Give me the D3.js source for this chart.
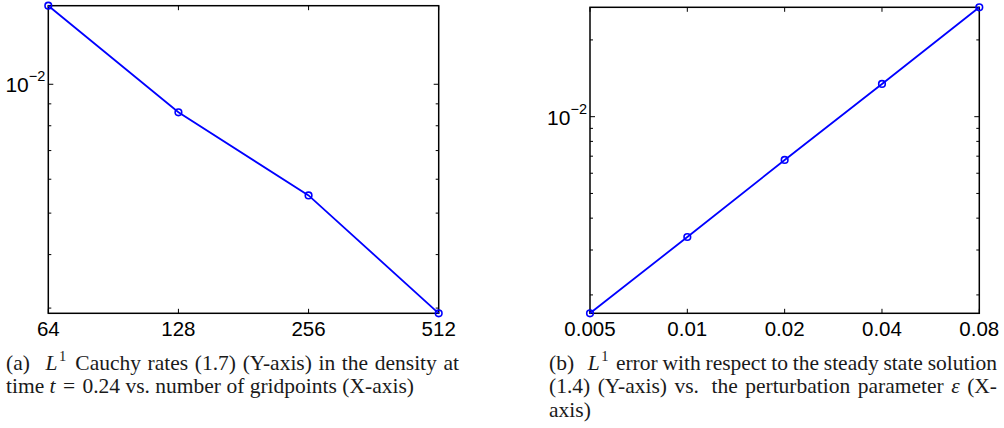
<!DOCTYPE html>
<html><head><meta charset="utf-8">
<script src="https://cdn.jsdelivr.net/npm/d3@7"></script>
<style>body{margin:0;background:#fff} svg{display:block}</style>
</head><body>
<svg id="fig" width="1004" height="428"></svg>
<script>
// Panel (a): L1 Cauchy rates in the density vs. number of gridpoints
const gridpoints = [64, 128, 256, 512];
const cauchyRates = [0.01526, 0.0086, 0.0055, 0.002917];
const gridTickLabels = ["64", "128", "256", "512"];

// Panel (b): L1 error w.r.t. steady state vs. perturbation parameter
const epsilons = [0.005, 0.01, 0.02, 0.04, 0.08];
const steadyErrors = [0.001694, 0.003374, 0.006764, 0.01344, 0.02685];
const epsTickLabels = ["0.005", "0.01", "0.02", "0.04", "0.08"];

// Labelled decade on the y axes
const yMajorTicks = [0.01];
const yMajorLabels = [{base: "10", exp: "\u22122"}];

const svg = d3.select("#fig");
const BLUE = "#0000ff";

function panel(box, xs, ys, xLabels, xBase) {
  const [x0, y0, x1, y1] = box;
  const g = svg.append("g");
  const x = d3.scaleLog().base(xBase).domain(d3.extent(xs)).range([x0, x1]);
  const y = d3.scaleLog().domain(d3.extent(ys)).range([y1, y0]);

  const tickStyle = s => s.attr("stroke", "#000").attr("stroke-width", 1);

  // x ticks (bottom and top, pointing inward)
  xs.forEach(v => {
    const px = x(v);
    tickStyle(g.append("line").attr("x1", px).attr("x2", px).attr("y1", y1).attr("y2", y1 - 4.5));
    tickStyle(g.append("line").attr("x1", px).attr("x2", px).attr("y1", y0).attr("y2", y0 + 4.5));
  });
  // y ticks: decades long, intermediate ones short
  y.ticks().forEach(v => {
    const py = y(v);
    const major = yMajorTicks.some(m => Math.abs(m - v) < 1e-12);
    const len = major ? 5 : 3;
    tickStyle(g.append("line").attr("x1", x0).attr("x2", x0 + len).attr("y1", py).attr("y2", py));
    tickStyle(g.append("line").attr("x1", x1).attr("x2", x1 - len).attr("y1", py).attr("y2", py));
  });

  // axes box
  g.append("rect").attr("x", x0).attr("y", y0).attr("width", x1 - x0).attr("height", y1 - y0)
    .attr("fill", "none").attr("stroke", "#000").attr("stroke-width", 1.5);

  // x tick labels
  g.selectAll(".xl").data(xs).join("text")
    .attr("x", d => x(d)).attr("y", y1 + 22.7)
    .attr("text-anchor", "middle")
    .attr("font-family", "Liberation Sans, Arial, sans-serif")
    .attr("font-size", 20.5)
    .text((d, i) => xLabels[i]);

  // y tick labels (10^-2)
  yMajorTicks.forEach((v, i) => {
    const t = g.append("text").attr("x", x0 - 3).attr("y", y(v) + 8)
      .attr("text-anchor", "end")
      .attr("font-family", "Liberation Sans, Arial, sans-serif");
    t.append("tspan").attr("font-size", 21).text(yMajorLabels[i].base);
    t.append("tspan").attr("font-size", 14.5).attr("dy", -11).text(yMajorLabels[i].exp);
  });

  // data line and markers
  const pts = xs.map((v, i) => [x(v), y(ys[i])]);
  g.append("path").attr("d", d3.line()(pts))
    .attr("fill", "none").attr("stroke", BLUE).attr("stroke-width", 1.8);
  g.selectAll("circle").data(pts).join("circle")
    .attr("cx", d => d[0]).attr("cy", d => d[1]).attr("r", 3.3)
    .attr("fill", "none").attr("stroke", BLUE).attr("stroke-width", 1.6);
}

panel([48.3, 5.7, 438.7, 313.3], gridpoints, cauchyRates, gridTickLabels, 2);
panel([590, 7.3, 979.3, 313.3], epsilons, steadyErrors, epsTickLabels, 10);

// ---- captions (justified serif text) ----
const CAP_FONT = "Liberation Serif, Times New Roman, serif";
const CAP_SIZE = 21.5;

// word: string, or array of parts {t, it, sup}; "extra" adds fixed space after a word
function W(parts, extra) { return {parts: typeof parts === "string" ? [{t: parts}] : parts, extra: extra || 0}; }

function captionLine(words, xLeft, xRight, baseline, justify, gapNatural) {
  const g = svg.append("g").attr("font-family", CAP_FONT).attr("font-size", CAP_SIZE).attr("fill", "#1a1a1a");
  const nodes = words.map(w => {
    const t = g.append("text").attr("y", baseline);
    w.parts.forEach(p => {
      const ts = t.append("tspan").text(p.t);
      if (p.it) ts.attr("font-style", "italic");
      if (p.sup) ts.attr("font-size", 14.5).attr("dy", -8.5).attr("dx", 1.5);
    });
    return t;
  });
  const widths = nodes.map(n => n.node().getComputedTextLength());
  const extras = words.reduce((s, w, i) => s + (i < words.length - 1 ? w.extra : 0), 0);
  const total = d3.sum(widths) + extras;
  const gap = justify && words.length > 1 ? (xRight - xLeft - total) / (words.length - 1) : (gapNatural || CAP_SIZE * 0.25);
  let cx = xLeft;
  nodes.forEach((n, i) => {
    n.attr("x", cx);
    cx += widths[i] + gap + words[i].extra;
  });
}

const L1 = [{t: "L", it: true}, {t: "1", sup: true}];

captionLine([W("(a)", 9), W(L1, 4), W("Cauchy"), W("rates"), W("(1.7)"), W("(Y-axis)"),
  W("in"), W("the"), W("density"), W("at")], 6, 459, 369.5, true);
captionLine([W("time"), W([{t: "t", it: true}], 2), W("=", 2), W("0.24"), W("vs."), W("number"),
  W("of"), W("gridpoints"), W("(X-axis)")], 6, 415, 393, false);

captionLine([W("(b)", 9), W(L1, 4), W("error"), W("with"), W("respect"), W("to"), W("the"),
  W("steady"), W("state"), W("solution")], 549, 997, 369.5, true);
captionLine([W("(1.4)"), W("(Y-axis)"), W("vs.", 5), W("the"), W("perturbation"),
  W("parameter"), W([{t: "\u03b5", it: true}]), W("(X-")], 549, 997, 393, true);
captionLine([W("axis)")], 549, 997, 416.5, false);
</script>
</body></html>
